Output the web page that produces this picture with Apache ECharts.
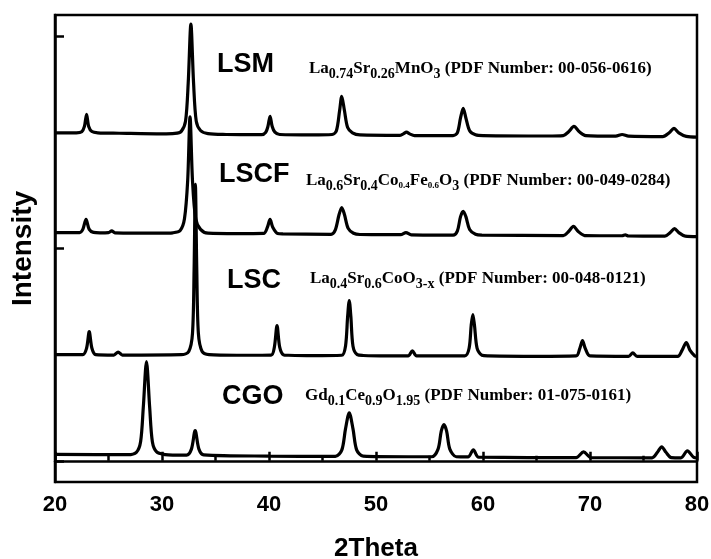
<!DOCTYPE html>
<html>
<head>
<meta charset="utf-8">
<script src="https://cdn.jsdelivr.net/npm/echarts@6/dist/echarts.min.js"></script>
<style>
  html, body { margin: 0; padding: 0; background: #fff; }
  #chart { width: 711px; height: 559px; }
</style>
</head>
<body>
<div id="chart"></div>
<script>
// axis ticks
const xTicks = [20, 30, 40, 50, 60, 70, 80]
const yTicks = [0, 1000, 2000]

// patterns: [2theta, intensity (a.u., offset as drawn)]
const lsm = [
  [20, 1545], [22.0, 1545], [22.5, 1550], [22.75, 1575], [22.95, 1632], [23.15, 1575], [23.45, 1551], [24.0, 1545],
  [26, 1543], [30, 1540], [31.2, 1542], [31.8, 1552], [32.2, 1600], [32.45, 1780], [32.7, 2057], [32.95, 1780], [33.2, 1600], [33.6, 1556], [34.3, 1541],
  [36, 1537], [39.3, 1536], [39.7, 1548], [39.9, 1575], [40.1, 1623], [40.3, 1575], [40.55, 1548], [41.0, 1537],
  [44, 1535], [45.9, 1537], [46.3, 1555], [46.6, 1650], [46.8, 1717], [47.05, 1650], [47.35, 1570], [47.8, 1545], [48.5, 1535],
  [52.2, 1533], [52.55, 1540], [52.85, 1548], [53.15, 1540], [53.6, 1532],
  [57.2, 1532], [57.6, 1545], [57.9, 1615], [58.15, 1660], [58.4, 1615], [58.75, 1555], [59.3, 1536], [60, 1532],
  [66, 1530], [67.5, 1532], [68.0, 1550], [68.5, 1575], [69.0, 1550], [69.6, 1532],
  [72.4, 1529], [73.0, 1537], [73.6, 1529],
  [76.8, 1527], [77.4, 1545], [77.85, 1566], [78.3, 1545], [79.0, 1528], [80, 1525]
]
const lscf = [
  [20, 1075], [22.3, 1075], [22.6, 1090], [22.9, 1137], [23.2, 1090], [23.6, 1076], [24.2, 1074],
  [25.0, 1075], [25.3, 1083], [25.6, 1074],
  [30, 1072], [31.0, 1074], [31.7, 1085], [32.1, 1140], [32.4, 1320], [32.62, 1620], [32.85, 1320], [33.15, 1140], [33.6, 1090], [34.3, 1072],
  [37, 1070], [39.5, 1071], [39.85, 1100], [40.1, 1137], [40.35, 1100], [40.8, 1071], [41.3, 1069],
  [45.8, 1067], [46.2, 1088], [46.55, 1160], [46.8, 1193], [47.05, 1160], [47.4, 1095], [47.9, 1072], [48.5, 1066],
  [52.3, 1065], [52.8, 1075], [53.3, 1064],
  [57.2, 1063], [57.6, 1082], [57.9, 1150], [58.15, 1175], [58.4, 1150], [58.75, 1090], [59.3, 1067], [59.9, 1063],
  [67.5, 1061], [68.0, 1080], [68.45, 1104], [68.9, 1080], [69.5, 1061],
  [73, 1060], [73.3, 1064], [73.6, 1059],
  [77, 1058], [77.5, 1075], [77.9, 1094], [78.3, 1075], [78.9, 1058], [80, 1056]
]
const lsc = [
  [20, 500], [22.6, 500], [22.95, 530], [23.2, 608], [23.45, 530], [23.8, 500],
  [25.5, 498], [25.9, 512], [26.3, 498],
  [31.8, 500], [32.5, 515], [32.85, 600], [33.0, 900], [33.12, 1302], [33.25, 900], [33.4, 600], [33.75, 515], [34.4, 500],
  [37, 497], [40.2, 498], [40.5, 535], [40.75, 637], [41.0, 535], [41.35, 499], [41.8, 497],
  [44, 495], [46.8, 497], [47.15, 540], [47.35, 680], [47.5, 755], [47.65, 680], [47.85, 540], [48.25, 500], [48.8, 496],
  [51, 494], [53.0, 494], [53.4, 518], [53.8, 494],
  [58.3, 494], [58.7, 530], [58.9, 640], [59.05, 689], [59.2, 640], [59.45, 530], [59.9, 497], [60.5, 494],
  [65, 492], [68.7, 494], [69.05, 530], [69.3, 566], [69.55, 530], [70.0, 494],
  [73.6, 492], [74.0, 508], [74.4, 492],
  [78.2, 492], [78.6, 520], [79.0, 557], [79.35, 520], [79.8, 494], [80, 492]
]
const cgo = [
  [20, 30], [26.8, 29], [27.6, 40], [28.0, 90], [28.25, 250], [28.55, 467], [28.85, 250], [29.1, 90], [29.5, 42], [30.3, 29],
  [31, 27], [32.3, 27], [32.75, 55], [33.1, 142], [33.45, 55], [33.9, 28],
  [40, 22], [46.2, 21], [46.8, 50], [47.15, 150], [47.5, 226], [47.85, 150], [48.2, 50], [48.8, 22],
  [53, 19], [55.2, 19], [55.8, 55], [56.1, 140], [56.35, 170], [56.6, 140], [56.9, 55], [57.5, 19],
  [58.6, 18], [59.1, 52], [59.6, 17],
  [68.7, 15], [69.4, 42], [70.1, 15],
  [75.8, 14], [76.3, 40], [76.7, 66], [77.1, 40], [77.6, 15],
  [78.5, 14], [79.1, 47], [79.7, 16], [80, 14]
]

const names = ['LSM', 'LSCF', 'LSC', 'CGO']
const formulas = [
  '{n|La}{s|0.74}{n|Sr}{s|0.26}{n|MnO}{s|3}{n| (PDF Number: 00-056-0616)}',
  '{n|La}{s|0.6}{n|Sr}{s|0.4}{n|Co}{t|0.4}{n|Fe}{t|0.6}{n|O}{s|3}{n| (PDF Number: 00-049-0284)}',
  '{n|La}{s|0.4}{n|Sr}{s|0.6}{n|CoO}{s|3-x}{n| (PDF Number: 00-048-0121)}',
  '{n|Gd}{s|0.1}{n|Ce}{s|0.9}{n|O}{s|1.95}{n| (PDF Number: 01-075-0161)}'
]

const sans = '"Liberation Sans", Arial, sans-serif'
const serif = '"Liberation Serif", "Times New Roman", serif'
const namePos = [[217, 65], [219, 175], [227, 281], [222, 397]]
const formulaPos = [[309, 60], [306, 172], [310, 270], [305, 387]]

const rich = {
  n: { fontFamily: serif, fontWeight: 'bold', fontSize: 17, lineHeight: 18, verticalAlign: 'top', fill: '#000' },
  s: { fontFamily: serif, fontWeight: 'bold', fontSize: 14, lineHeight: 15, verticalAlign: 'top', padding: [7, 0, 0, 0], fill: '#000' },
  t: { fontFamily: serif, fontWeight: 'bold', fontSize: 9, lineHeight: 10, verticalAlign: 'top', padding: [9, 0, 0, 0], fill: '#000' }
}

const graphics = []
names.forEach((name, i) => {
  graphics.push({
    type: 'text', x: namePos[i][0], y: namePos[i][1],
    style: { text: name, font: 'bold 27px ' + sans, fill: '#000', textVerticalAlign: 'middle', verticalAlign: 'middle' }
  })
  graphics.push({
    type: 'text', x: formulaPos[i][0], y: formulaPos[i][1],
    style: { text: formulas[i], rich: rich, textVerticalAlign: 'top', verticalAlign: 'top' }
  })
})

const lineSeries = (data) => ({
  type: 'line',
  data: data,
  showSymbol: false,
  smooth: 0.3,
  lineStyle: { color: '#000', width: 3.2 },
  itemStyle: { color: '#000' }
})

const tickStyle = { color: '#000', width: 2.5 }

const iChart = echarts.init(document.getElementById('chart'))
iChart.setOption({
  animation: false,
  backgroundColor: '#fff',
  grid: {
    left: 55, right: 14, top: 15, bottom: 77,
    outerBoundsMode: 'none', containLabel: false,
    show: true, borderColor: '#000', borderWidth: 2.5
  },
  xAxis: {
    type: 'value',
    min: xTicks[0],
    max: xTicks[xTicks.length - 1],
    interval: xTicks[1] - xTicks[0],
    name: '2Theta',
    nameLocation: 'middle',
    nameGap: 54,
    nameTextStyle: { fontFamily: sans, fontWeight: 'bold', fontSize: 26, color: '#000' },
    axisLine: { lineStyle: tickStyle },
    axisTick: { inside: true, length: 9, lineStyle: tickStyle },
    minorTick: { show: true, splitNumber: 2, length: 5, lineStyle: tickStyle },
    axisLabel: { fontFamily: sans, fontWeight: 'bold', fontSize: 22, color: '#000', margin: 12 },
    splitLine: { show: false }
  },
  yAxis: {
    type: 'value',
    min: -100,
    max: 2100,
    name: 'Intensity',
    nameLocation: 'middle',
    nameGap: 18,
    nameTextStyle: { fontFamily: sans, fontWeight: 'bold', fontSize: 28, color: '#000' },
    axisLine: { show: true, lineStyle: tickStyle },
    axisTick: { show: true, inside: true, length: 9, customValues: yTicks, lineStyle: tickStyle },
    axisLabel: { show: false },
    splitLine: { show: false }
  },
  series: [lineSeries(cgo), lineSeries(lsc), lineSeries(lscf), lineSeries(lsm)],
  graphic: graphics
})
</script>
</body>
</html>
